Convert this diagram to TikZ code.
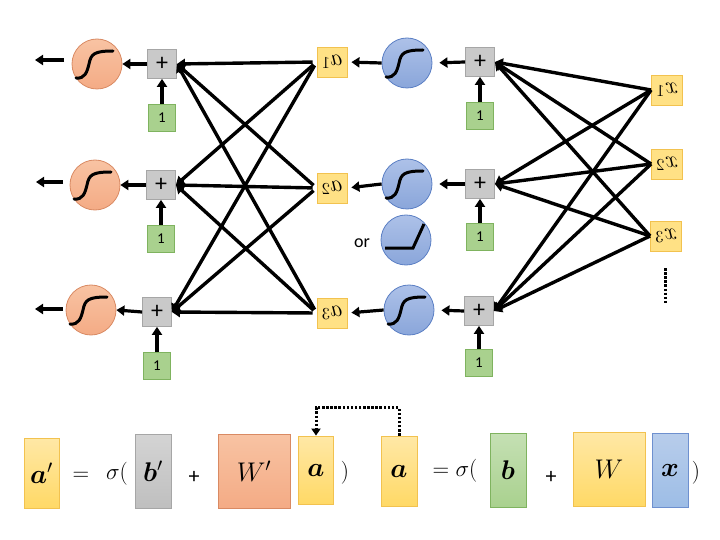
\RequirePackage{fix-cm}
\documentclass[tikz,border=0pt]{standalone}
\usepackage{fontspec}
\usepackage{bm}
\usepackage{graphicx}
\usetikzlibrary{arrows.meta}
\newfontfamily\carl{Carlito}
\definecolor{orfill}{HTML}{F4AB85}
\definecolor{orline}{HTML}{D98A63}
\definecolor{orlight}{HTML}{F8C3A3}
\definecolor{blfill}{HTML}{8AA6DA}
\definecolor{bllight}{HTML}{ADC1E8}
\definecolor{blline}{HTML}{5B7FC4}
\definecolor{yefill}{HTML}{FFD966}
\definecolor{yelight}{HTML}{FFE8A6}
\definecolor{yeline}{HTML}{F2C24F}
\definecolor{grfill}{HTML}{BFBFBF}
\definecolor{grlight}{HTML}{D4D4D4}
\definecolor{grline}{HTML}{A6A6A6}
\definecolor{gnfill}{HTML}{A9D18E}
\definecolor{gnlight}{HTML}{C5E0B4}
\definecolor{gnline}{HTML}{7FB35F}
\definecolor{xbfill}{HTML}{9DBDE6}
\definecolor{xblight}{HTML}{B8CDEB}
\definecolor{xbline}{HTML}{6E90CF}
\tikzset{
  orc/.style={circle, draw=orline, line width=0.8pt, top color=orlight, bottom color=orfill, minimum size=50pt, inner sep=0pt},
  blc/.style={circle, draw=blline, line width=0.8pt, top color=bllight, bottom color=blfill, minimum size=50pt, inner sep=0pt},
  plusbox/.style={rectangle, draw=grline, line width=0.8pt, fill=grfill!85, minimum size=29pt, inner sep=0pt, font=\carl\fontsize{24}{26}\selectfont},
  onebox/.style={rectangle, draw=gnline, line width=0.8pt, fill=gnfill, minimum size=27pt, inner sep=0pt, font=\carl\fontsize{15}{18}\selectfont},
  lab/.style={rectangle, draw=yeline, line width=0.8pt, fill=yefill!80, minimum size=30pt, inner sep=0pt, font=\fontsize{24}{26}\selectfont},
  arr/.style={line width=3.2pt, -{Triangle[length=8pt,width=10pt]}},
  conn/.style={line width=3.4pt, -{Triangle[length=8pt,width=10pt]}},
  dotline/.style={line width=3pt, dash pattern=on 2.5pt off 1.6pt, -{Triangle[length=7pt,width=9pt]}},
  eqbox/.style={rectangle, line width=0.8pt, inner sep=0pt, minimum width=35pt, minimum height=70pt, font=\fontsize{27}{30}\selectfont},
  eqtxt/.style={inner sep=0pt, font=\fontsize{23}{26}\selectfont},
  eqplus/.style={inner sep=0pt, font=\carl\fontsize{22}{24}\selectfont},
  sigm/.pic={\draw[line width=3pt, line cap=round] (-21,14) .. controls (-12,15) and (-10,8) .. (-8,0) .. controls (-6,-10) and (-3,-13) .. (16,-13);},
  relu/.pic={\draw[line width=3pt] (-21,8) -- (7,8) -- (18,-16);}
}
\begin{document}
\begin{tikzpicture}[x=1pt,y=-1pt]
\useasboundingbox (0,0) rectangle (720,540);
% ---------- output layer ----------
\node[orc] (O1) at (97,64) {};
\node[orc] (O2) at (95,185) {};
\node[orc] (O3) at (91,310) {};
\pic at (O1) {sigm};
\pic at (O2) {sigm};
\pic at (O3) {sigm};
\node[plusbox] (P1) at (162,64) {+};
\node[plusbox] (P2) at (161,185) {+};
\node[plusbox] (P3) at (157,312) {+};
\node[onebox] (B1) at (162,118) {1};
\node[onebox] (B2) at (161,239) {1};
\node[onebox] (B3) at (157,366) {1};
\coordinate (s1) at (64,60); \coordinate (t1) at (35,60);
\coordinate (s2) at (63,182); \coordinate (t2) at (36,182);
\coordinate (s3) at (63,309); \coordinate (t3) at (35,309);
\draw[arr] (s1) -- (t1);
\draw[arr] (s2) -- (t2);
\draw[arr] (s3) -- (t3);
\foreach \i in {1,2,3}{
  \draw[arr] (P\i.west) -- (O\i.east);
  \draw[arr] (B\i.north) -- (P\i.south);
}
% ---------- hidden layer ----------
\node[lab] (A1) at (332,62) {\scalebox{-1}[1]{$a_1$}};
\node[lab] (A2) at (332,188) {\scalebox{-1}[1]{$a_2$}};
\node[lab] (A3) at (332,313) {\scalebox{-1}[1]{$a_3$}};
\node[blc] (C1) at (407,63) {};
\node[blc] (C2) at (407,184) {};
\node[blc] (C3) at (409,310) {};
\node[blc] (R) at (406,240) {};
\pic at (C1) {sigm};
\pic at (C2) {sigm};
\pic at (C3) {sigm};
\pic at (R) {relu};
\node[inner sep=0pt, font=\carl\fontsize{18}{20}\selectfont] (or) at (362,243) {or};
\node[plusbox] (Q1) at (480,62) {+};
\node[plusbox] (Q2) at (480,184) {+};
\node[plusbox] (Q3) at (479,311) {+};
\node[onebox] (D1) at (480,116) {1};
\node[onebox] (D2) at (480,237) {1};
\node[onebox] (D3) at (479,363) {1};
\foreach \i in {1,2,3}{
  \draw[arr, shorten >=7pt] (Q\i.west) -- (C\i.east);
  \draw[arr, shorten >=4pt] (C\i.west) -- (A\i.east);
  \draw[arr] (D\i.north) -- (Q\i.south);
}
% ---------- inputs ----------
\node[lab, minimum width=31pt] (X1) at (667,90) {\scalebox{-1}[1]{$x_1$}};
\node[lab, minimum width=31pt] (X2) at (667,164) {\scalebox{-1}[1]{$x_2$}};
\node[lab, minimum width=31pt] (X3) at (666,236) {\scalebox{-1}[1]{$x_3$}};
\coordinate (el1) at (665,268); \coordinate (el2) at (665,303);
\draw[line width=3pt, dash pattern=on 2.5pt off 1.6pt] (el1) -- (el2);
% ---------- connections ----------
\foreach \i in {1,2,3}{
  \foreach \j in {1,2,3}{
    \draw[conn, shorten <=4pt] (A\i.west) -- (P\j.east);
    \draw[conn] (X\i.west) -- (Q\j.east);
  }
}
% ---------- equations ----------
\node[eqbox, draw=yeline, top color=yelight, bottom color=yefill] (ap) at (41.5,473) {$\bm{a}'$};
\node[eqtxt] (eq1) at (81,476) {$=$};
\node[eqtxt] (sg1) at (117,474) {$\sigma($};
\node[eqbox, draw=grline, top color=grlight, bottom color=grfill, minimum width=36pt, minimum height=74pt] (bp) at (153,471) {$\bm{b}'$};
\node[eqplus] (pl1) at (194,477) {+};
\node[eqbox, draw=orline, top color=orlight, bottom color=orfill, minimum width=72pt, minimum height=74pt] (Wp) at (254,471) {$W'$};
\node[eqbox, draw=yeline, top color=yelight, bottom color=yefill, minimum height=68pt] (al) at (316,470) {$\bm{a}$};
\node[eqtxt] (rp1) at (345,473) {$)$};
\node[eqbox, draw=yeline, top color=yelight, bottom color=yefill, minimum width=36pt] (ar) at (399,471) {$\bm{a}$};
\node[eqtxt] (eq2) at (455,471) {$=\sigma($};
\node[eqbox, draw=gnline, top color=gnlight, bottom color=gnfill, minimum width=36pt, minimum height=74pt] (bb) at (508,470) {$\bm{b}$};
\node[eqplus] (pl2) at (551,477) {+};
\node[eqbox, draw=yeline, top color=yelight, bottom color=yefill, minimum width=72pt, minimum height=74pt] (WW) at (609,469) {$W$};
\node[eqbox, draw=xbline, top color=xblight, bottom color=xbfill, minimum width=36pt, minimum height=74pt] (xx) at (670,470) {$\bm{x}$};
\node[eqtxt] (rp2) at (696,473) {$)$};
\draw[dotline] (ar.north) -- ++(0,-28) -| (al.north);
\end{tikzpicture}
\end{document}
